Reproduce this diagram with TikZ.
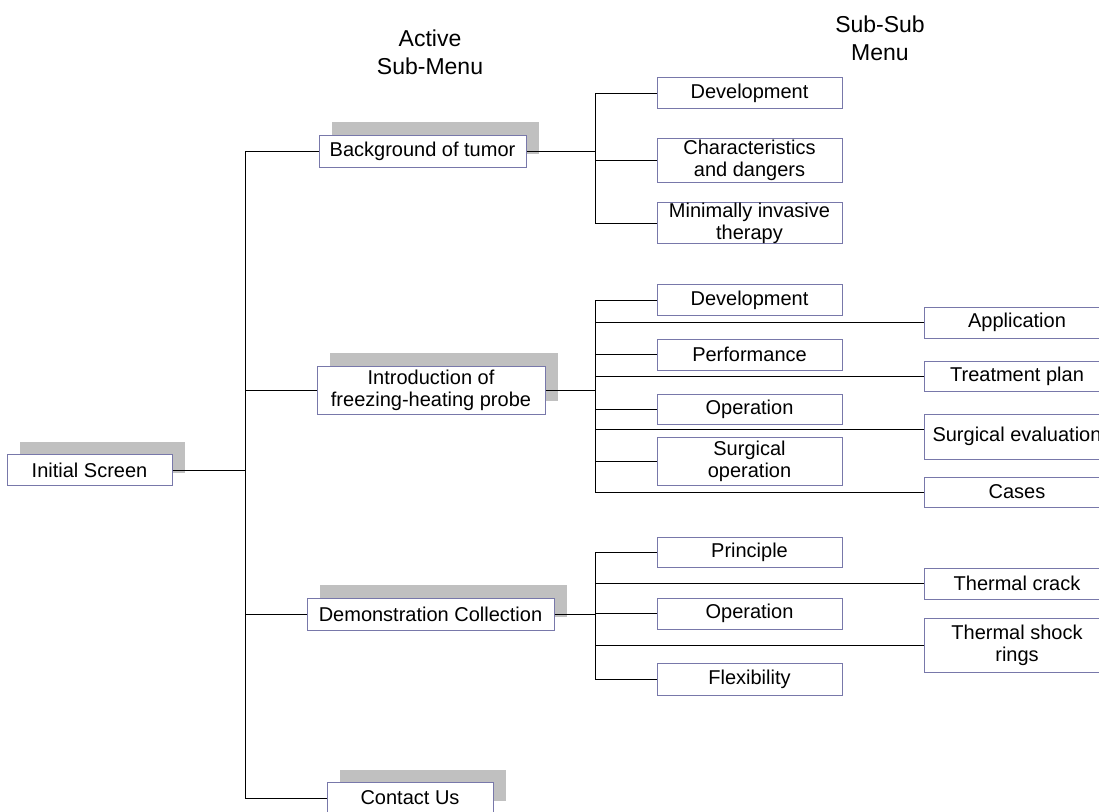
\documentclass[tikz,border=0pt]{standalone}
\usepackage{fontspec}
\setmainfont{Liberation Sans}
\usetikzlibrary{shadows}
\definecolor{boxline}{RGB}{120,120,170}
\definecolor{shadowgray}{RGB}{192,192,192}

\begin{document}
\begin{tikzpicture}[x=1pt,y=-1pt,
  menu/.style={draw=boxline,line width=1pt,fill=white,inner sep=0pt,align=center,
    font=\fontsize{20}{22}\selectfont},
  shadowed/.style={menu,drop shadow={shadow xshift=13pt,shadow yshift=13pt,fill=shadowgray,opacity=1}},
  leftsub/.style={menu,minimum width=185pt},
  rightsub/.style={menu,minimum width=186pt},
  link/.style={line width=1pt},
  header/.style={align=center,font=\fontsize{23}{28}\selectfont}]
\useasboundingbox (0,0) rectangle (1099,811);
\clip (0,0) rectangle (1099,811);

% headers
\node[header] (hdact) at (430,52) {Active\\Sub-Menu};
\node[header] (hdsub) at (880,38) {Sub-Sub\\Menu};

% main menu
\node[shadowed,minimum width=165pt,minimum height=31pt] (init) at (89.5,470) {Initial Screen};
\node[shadowed,minimum width=207pt,minimum height=32pt] (bg) at (422.5,151) {Background of tumor};
\node[shadowed,minimum width=228pt,minimum height=48pt] (intro) at (431,390) {Introduction of\\freezing-heating probe};
\node[shadowed,minimum width=247pt,minimum height=32pt] (demo) at (430.5,614) {Demonstration Collection};
\node[shadowed,minimum width=166pt,minimum height=31pt] (contact) at (410,798) {Contact Us};

% sub-sub menu, background
\node[leftsub,minimum height=31pt] (dev1) at (749.5,93) {Development};
\node[leftsub,minimum height=44pt] (char) at (749.5,160) {Characteristics\\and dangers};
\node[leftsub,minimum height=40pt] (mini) at (749.5,223) {Minimally invasive\\therapy};

% sub-sub menu, probe
\node[leftsub,minimum height=31pt] (dev2) at (749.5,300) {Development};
\node[leftsub,minimum height=31pt] (perf) at (749.5,354.5) {Performance};
\node[leftsub,minimum height=30pt] (op1) at (749.5,409) {Operation};
\node[leftsub,minimum height=48pt] (surgop) at (749.5,461) {Surgical\\operation};
\node[rightsub,minimum height=31pt] (app) at (1017,322.5) {Application};
\node[rightsub,minimum height=30pt] (treat) at (1017,376) {Treatment plan};
\node[rightsub,minimum height=45pt] (seval) at (1017,436.5) {Surgical evaluation};
\node[rightsub,minimum height=30pt] (cases) at (1017,492) {Cases};

% sub-sub menu, demonstration
\node[leftsub,minimum height=30pt] (princ) at (749.5,552) {Principle};
\node[leftsub,minimum height=31pt] (op2) at (749.5,613.5) {Operation};
\node[leftsub,minimum height=32pt] (flex) at (749.5,679) {Flexibility};
\node[rightsub,minimum height=31pt] (crack) at (1017,583.5) {Thermal crack};
\node[rightsub,minimum height=54pt] (shock) at (1017,645) {Thermal shock\\rings};

% main trunk
\coordinate (trunk) at (245,0);
\draw[link] (init.east) -- (init.east -| trunk);
\draw[link] (bg.west) -| (trunk |- contact.west) -- (contact.west);
\draw[link] (intro.west) -- (intro.west -| trunk);
\draw[link] (demo.west) -- (demo.west -| trunk);

% sub trunks
\coordinate (sub) at (595,0);
\draw[link] (bg.east) -- (bg.east -| sub);
\draw[link] (dev1.west) -| (sub |- mini.west) -- (mini.west);
\draw[link] (char.west) -- (char.west -| sub);

\draw[link] (intro.east) -- (intro.east -| sub);
\draw[link] (dev2.west) -| (sub |- cases.west) -- (cases.west);
\foreach \n in {app,perf,treat,op1,surgop}
  \draw[link] (\n.west) -- (\n.west -| sub);
\coordinate (sevin) at ([yshift=7.5pt]seval.west);
\draw[link] (sevin) -- (sevin -| sub);

\draw[link] (demo.east) -- (demo.east -| sub);
\draw[link] (princ.west) -| (sub |- flex.west) -- (flex.west);
\foreach \n in {crack,op2,shock}
  \draw[link] (\n.west) -- (\n.west -| sub);
\end{tikzpicture}
\end{document}
